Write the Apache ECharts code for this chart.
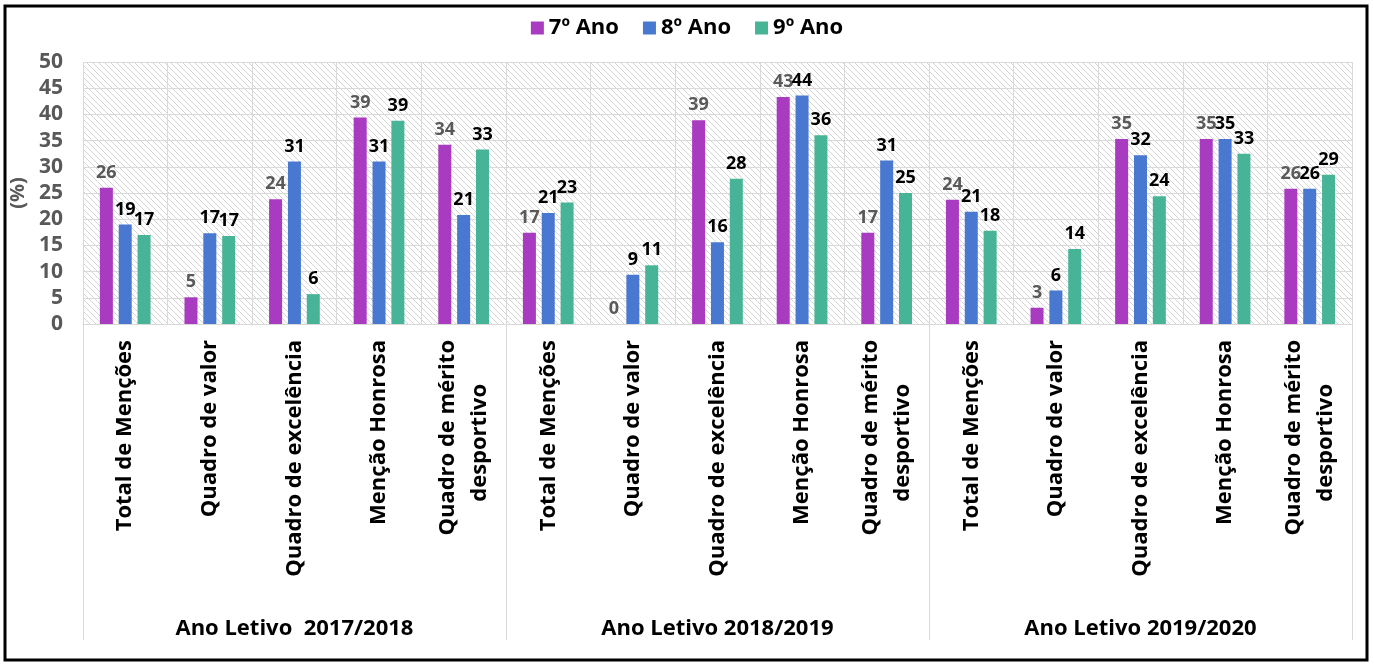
<!DOCTYPE html>
<html><head><meta charset="utf-8">
<script src="https://cdn.jsdelivr.net/npm/echarts@6/dist/echarts.min.js"></script>
<style>html,body{margin:0;padding:0;background:#fff}#c{width:1374px;height:665px}</style>
</head><body><div id="c"></div>
<script>
const categories = ['Total de Menções','Quadro de valor','Quadro de excelência','Menção Honrosa','Quadro de mérito\ndesportivo',
  'Total de Menções','Quadro de valor','Quadro de excelência','Menção Honrosa','Quadro de mérito\ndesportivo',
  'Total de Menções','Quadro de valor','Quadro de excelência','Menção Honrosa','Quadro de mérito\ndesportivo'];
const groups = ['Ano Letivo  2017/2018','Ano Letivo 2018/2019','Ano Letivo 2019/2020'];
const seriesNames = ['7º Ano','8º Ano','9º Ano'];
const ano7 = [26.0,5.1,23.8,39.4,34.2, 17.4,0,38.9,43.3,17.4, 23.7,3.1,35.3,35.3,25.8];
const ano8 = [19.0,17.3,31.0,31.0,20.8, 21.2,9.4,15.6,43.6,31.2, 21.4,6.4,32.2,35.3,25.8];
const ano9 = [17.0,16.8,5.7,38.8,33.3, 23.2,11.2,27.7,36.0,25.0, 17.8,14.3,24.4,32.5,28.5];
const yTicks = {min:0, max:50, interval:5};

const FONT = 'Open Sans';
const colors = ['#a83bc0','#4878d0','#47b497'];
const labelColors = ['#595959','#000','#000'];

const pc = document.createElement('canvas');
pc.width = 6; pc.height = 6;
const g = pc.getContext('2d');
g.fillStyle = '#fff'; g.fillRect(0,0,6,6);
g.strokeStyle = '#d4d4d4'; g.lineWidth = 1;
g.beginPath(); g.moveTo(-1,-1); g.lineTo(7,7); g.moveTo(-4,2); g.lineTo(4,10); g.moveTo(2,-4); g.lineTo(10,4); g.stroke();

const chart = echarts.init(document.getElementById('c'));
const data = [ano7, ano8, ano9];
const catFont = 22;
chart.setOption({
  animation:false,
  textStyle:{fontFamily:FONT},
  legend:{top:12, left:'center', itemWidth:13, itemHeight:13, itemGap:24, icon:'rect',
    textStyle:{fontSize:22, fontWeight:'bold', color:'#000', fontFamily:FONT}, data:seriesNames},
  grid:{left:82, right:22, top:62, bottom:341, show:true, backgroundColor:{image:pc, repeat:'repeat'}, borderWidth:0},
  xAxis:[{type:'category', data:categories,
    axisLine:{show:true, lineStyle:{color:'#d9d9d9'}}, axisTick:{show:false},
    splitLine:{show:true, interval:0, lineStyle:{color:'#d9d9d9', width:1}},
    axisLabel:{interval:0, rotate:90, margin:16, fontSize:catFont, fontWeight:'bold', color:'#000', fontFamily:FONT, lineHeight:32, align:'right',
      formatter:v=>{const p=v.split('\n'); return p.length>1 ? '{a|'+p[0]+'}\n{b|'+p[1]+'}' : v;},
      rich:{a:{fontSize:catFont, fontWeight:'bold', color:'#000', fontFamily:FONT, lineHeight:32},
            b:{fontSize:catFont, fontWeight:'bold', color:'#000', fontFamily:FONT, lineHeight:32, padding:[0,44,0,0]}}}},
   {type:'category', data:groups, position:'bottom', offset:316,
    axisLine:{show:false}, axisTick:{show:true, inside:true, length:316, lineStyle:{color:'#d9d9d9'}},
    axisLabel:{margin:-22, fontSize:22, fontWeight:'bold', color:'#000', fontFamily:FONT}}],
  yAxis:{type:'value', min:yTicks.min, max:yTicks.max, interval:yTicks.interval,
    name:'(%)', nameLocation:'middle', nameGap:50, nameRotate:90,
    nameTextStyle:{fontSize:20, fontWeight:'bold', color:'#595959', fontFamily:FONT},
    axisLine:{show:false}, axisTick:{show:false},
    splitLine:{lineStyle:{color:'#d9d9d9', width:1}},
    axisLabel:{fontSize:21, fontWeight:'bold', color:'#595959', margin:20, fontFamily:FONT}},
  series: seriesNames.map((n,i)=>({name:n, type:'bar', xAxisIndex:0, data:data[i], barWidth:13, barGap:'45%',
    itemStyle:{color:colors[i]},
    label:{show:true, position:'top', distance:6, fontSize:18, fontWeight:'bold', color:labelColors[i], fontFamily:FONT,
      formatter:p=>Math.round(p.value)}})),
  graphic:[{type:'rect', shape:{x:5, y:6, width:1362, height:654}, style:{fill:'none', stroke:'#000', lineWidth:3}, z:100, silent:true}]
});
</script></body></html>
